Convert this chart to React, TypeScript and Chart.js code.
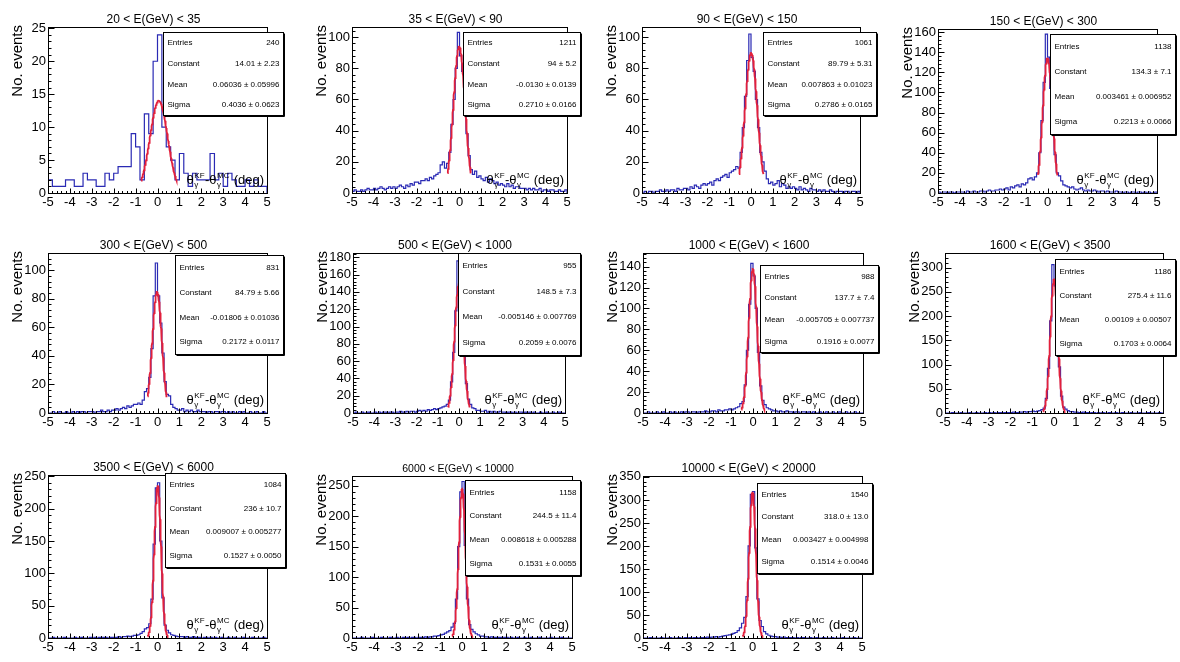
import React, { useEffect, useRef } from "react";
import { Chart, registerables } from "chart.js";
Chart.register(...registerables);

const FONT = '"Liberation Sans", Arial, Helvetica, sans-serif';

// ---------- data ----------
const panelTitles = [
  "20 < E(GeV) < 35", "35 < E(GeV) < 90", "90 < E(GeV) < 150", "150 < E(GeV) < 300",
  "300 < E(GeV) < 500", "500 < E(GeV) < 1000", "1000 < E(GeV) < 1600", "1600 < E(GeV) < 3500",
  "3500 < E(GeV) < 6000", "6000 < E(GeV) < 10000", "10000 < E(GeV) < 20000",
];
const binWidths = [0.2, 0.1, 0.1, 0.1, 0.1, 0.1, 0.1, 0.1, 0.1, 0.1, 0.1];
const xTickValues = [-5, -4, -3, -2, -1, 0, 1, 2, 3, 4, 5];

const counts1 = [2,1,1,1,2,2,1,1,3,2, 2,1,1,3,2,3,4,4,4,9, 7,2,12,9,20,24,10,7,5,2, 6,3,1,3,2,2,2,6,2,3, 1,3,2,1,1,2,1,2,1,1];
const counts2 = [1,2,1,1,2,1,2,3,2,2, 3,2,3,4,3,2,3,4,3,4, 3,4,5,4,3,5,4,6,5,7, 7,6,8,8,9,8,10,9,11,12, 13,18,20,16,19,26,44,60,80,103, 88,78,58,38,24,15,12,14,10,11, 9,8,10,7,9,8,6,7,5,6, 5,4,6,4,5,3,4,4,3,3, 3,2,3,2,3,2,2,3,1,2, 2,1,2,2,1,1,2,1,1,2];
const counts3 = [0,1,0,1,1,0,1,1,2,1, 1,2,1,2,2,1,3,2,2,3, 3,2,4,3,5,4,3,5,6,5, 6,7,5,8,9,8,10,11,12,10, 13,14,15,17,16,26,42,62,85,102, 87,78,60,42,26,20,14,9,6,7, 5,6,8,4,6,5,3,4,3,4, 3,2,4,2,3,2,1,3,2,2, 1,2,1,2,1,1,2,1,0,1, 1,1,0,1,1,0,1,1,0,1];
const counts4 = [1,0,1,1,0,1,1,0,1,1, 1,1,0,2,1,1,2,1,1,2, 2,1,2,3,2,2,3,3,4,3, 4,5,3,6,5,7,8,6,9,8, 10,14,15,13,16,20,40,72,110,158, 135,104,70,38,20,17,12,8,7,6, 5,6,4,3,4,5,3,2,3,2, 2,3,2,1,2,2,1,2,1,1, 1,2,1,1,0,1,1,0,1,1, 0,1,1,0,1,0,1,0,0,1];
const counts5 = [0,0,1,0,0,1,0,0,1,0, 0,1,0,1,0,1,1,0,1,1, 1,0,1,1,2,1,1,2,1,2, 2,3,2,3,4,3,5,4,5,6, 6,7,6,9,15,17,25,45,82,105, 82,63,42,22,13,12,6,4,3,2, 2,3,1,2,1,2,1,1,2,1, 1,1,0,1,1,0,1,1,0,1, 1,0,1,0,1,0,0,1,0,1, 0,0,1,0,0,1,0,0,1,0];
const counts6 = [0,1,0,0,1,0,0,1,0,0, 1,0,1,0,1,1,0,1,1,0, 1,1,2,1,1,2,1,2,2,1, 2,3,2,3,2,4,3,4,5,4, 5,6,7,8,10,15,36,70,118,176, 143,112,70,34,16,10,6,5,3,3, 2,2,3,1,2,1,2,1,1,2, 1,1,0,1,1,0,1,0,1,1, 0,1,0,1,0,1,0,0,1,0, 0,1,0,0,1,0,0,1,0,0];
const counts7 = [0,0,1,0,0,0,1,0,0,1, 0,0,1,0,1,0,0,1,0,1, 1,0,1,1,0,1,1,1,2,1, 1,2,2,1,3,2,2,3,3,4, 3,4,5,6,9,11,27,60,104,143, 131,100,58,26,12,8,5,4,3,2, 2,1,2,1,1,2,1,1,0,1, 1,0,1,1,0,1,0,1,0,0, 1,0,0,1,0,0,1,0,0,1, 0,0,1,0,0,0,1,0,0,0];
const counts8 = [0,0,0,1,0,0,0,1,0,0, 0,1,0,0,1,0,0,0,1,0, 1,0,1,0,1,1,0,1,1,1, 1,2,1,1,2,2,3,2,3,3, 4,3,4,5,7,10,30,92,190,306, 262,185,95,35,12,8,5,3,3,2, 2,1,1,2,1,1,0,1,1,0, 1,0,1,0,0,1,0,0,1,0, 0,1,0,0,0,1,0,0,0,1, 0,0,0,1,0,0,0,0,1,0];
const counts9 = [0,0,1,0,0,0,0,1,0,0, 0,0,1,0,0,1,0,0,0,1, 0,1,0,1,0,1,1,0,1,1, 1,1,2,1,2,2,3,2,3,4, 4,5,7,10,14,16,22,60,145,232, 240,150,62,20,12,8,5,4,3,2, 2,2,1,2,1,1,2,1,1,1, 0,1,1,0,1,0,1,0,0,1, 0,0,1,0,0,1,0,0,0,1, 0,0,0,1,0,0,0,0,1,0];
const counts10 = [0,0,0,0,1,0,0,0,0,1, 0,0,0,1,0,0,0,1,0,0, 1,0,0,1,0,1,0,1,1,0, 1,1,1,2,1,2,2,3,3,4, 5,6,8,10,12,18,24,64,150,240, 257,152,64,22,14,10,7,5,3,3, 2,2,1,2,1,1,1,1,0,1, 1,0,1,0,0,1,0,0,1,0, 0,1,0,0,0,1,0,0,0,0, 1,0,0,0,0,1,0,0,0,0];
const counts11 = [0,0,0,1,0,0,0,0,1,0, 0,0,1,0,0,0,1,0,0,1, 0,1,0,1,1,0,1,1,1,2, 1,2,2,3,2,3,4,5,6,7, 8,10,12,16,22,32,45,90,200,312, 318,196,85,38,25,14,9,6,4,3, 3,2,2,1,2,1,1,1,1,0, 1,0,1,1,0,0,1,0,0,1, 0,0,1,0,0,0,1,0,0,0, 0,1,0,0,0,0,1,0,0,0];
const panelCounts = [counts1, counts2, counts3, counts4, counts5, counts6, counts7, counts8, counts9, counts10, counts11];

const yMax = [25.2, 106.5, 106.5, 163, 112, 185, 153, 330, 252, 266, 352];
const yMajorStep = [5, 20, 20, 20, 20, 20, 20, 50, 50, 50, 50];

// Gaussian fit results shown in the stat boxes
const fitConstant = [14.01, 94, 89.79, 134.3, 84.79, 148.5, 137.7, 275.4, 236, 244.5, 318.0];
const fitMean = [0.06036, -0.013, 0.007863, 0.003461, -0.01806, -0.005146, -0.005705, 0.00109, 0.009007, 0.008618, 0.003427];
const fitSigma = [0.4036, 0.271, 0.2786, 0.2213, 0.2172, 0.2059, 0.1916, 0.1703, 0.1527, 0.1531, 0.1514];
const fitLow = [-0.75, -0.555, -0.55, -0.44, -0.45, -0.52, -0.53, -0.51, -0.45, -0.45, -0.45];
const fitHigh = [0.87, 0.53, 0.565, 0.45, 0.42, 0.51, 0.52, 0.51, 0.47, 0.47, 0.46];

const entriesText = ["240", "1211", "1061", "1138", "831", "955", "988", "1186", "1084", "1158", "1540"];
const constantText = ["14.01 ± 2.23", "94 ± 5.2", "89.79 ± 5.31", "134.3 ± 7.1", "84.79 ± 5.66", "148.5 ± 7.3", "137.7 ± 7.4", "275.4 ± 11.6", "236 ± 10.7", "244.5 ± 11.4", "318.0 ± 13.0"];
const meanText = ["0.06036 ± 0.05996", "-0.0130 ± 0.0139", "0.007863 ± 0.01023", "0.003461 ± 0.006952", "-0.01806 ± 0.01036", "-0.005146 ± 0.007769", "-0.005705 ± 0.007737", "0.00109 ± 0.00507", "0.009007 ± 0.005277", "0.008618 ± 0.005288", "0.003427 ± 0.004998"];
const sigmaText = ["0.4036 ± 0.0623", "0.2710 ± 0.0166", "0.2786 ± 0.0165", "0.2213 ± 0.0066", "0.2172 ± 0.0117", "0.2059 ± 0.0076", "0.1916 ± 0.0077", "0.1703 ± 0.0064", "0.1527 ± 0.0050", "0.1531 ± 0.0055", "0.1514 ± 0.0046"];

// ---------- layout (page pixels) ----------
const frames = [
  [48, 27, 267, 193], [352, 27, 567, 193], [642, 27, 860, 193], [938, 29, 1157, 193],
  [48, 253, 267, 413], [353, 253, 565, 413], [643, 253, 863, 413], [945, 253, 1163, 413],
  [48, 475, 267, 638], [352, 476, 572, 638], [643, 476, 862, 638],
];
const statBoxes = [
  [163, 32, 283, 115], [463, 32, 580, 115], [763, 32, 876, 115], [1050, 34, 1175, 134],
  [175, 255, 283, 354], [458, 253, 580, 355], [760, 265, 878, 352], [1055, 259, 1175, 355],
  [165, 473, 285, 567], [465, 480, 580, 575], [757, 483, 872, 573],
];
const titleFontSize = [12, 12, 12, 12, 12, 12, 12, 12, 12, 10.5, 12];

const PAD_L = 60, PAD_T = 32, PAD_R = 25, PAD_B = 22;
const HIST_COLOR = "#2a2ab4";
const FIT_COLOR = "#e2203c";

function drawXLabel(ctx: CanvasRenderingContext2D, right: number, baseline: number) {
  const big = `13px ${FONT}`;
  const small = `8px ${FONT}`;
  type Seg = { t?: string; sup?: string; sub?: string };
  const segs: Seg[] = [
    { t: "θ" }, { sup: "KF", sub: "γ" }, { t: "-" }, { t: "θ" }, { sup: "MC", sub: "γ" }, { t: " (deg)" },
  ];
  const widths = segs.map((s) => {
    if (s.t !== undefined) { ctx.font = big; return ctx.measureText(s.t).width; }
    ctx.font = small;
    return Math.max(ctx.measureText(s.sup || "").width, ctx.measureText(s.sub || "").width) + 1;
  });
  let x = right - widths.reduce((a, b) => a + b, 0);
  ctx.fillStyle = "#000";
  ctx.textAlign = "left";
  ctx.textBaseline = "alphabetic";
  segs.forEach((s, i) => {
    if (s.t !== undefined) {
      ctx.font = big;
      ctx.fillText(s.t, x, baseline);
    } else {
      ctx.font = small;
      ctx.fillText(s.sup || "", x + 0.5, baseline - 6);
      ctx.fillText(s.sub || "", x + 0.5, baseline + 3);
    }
    x += widths[i];
  });
}

const rootPanelPlugin = {
  id: "rootPanel",
  afterDraw(chart: any, _args: any, opts: any) {
    const i: number = opts.idx;
    const { ctx, chartArea: a, scales } = chart;
    const xs = scales.x, ys = scales.y;
    const offX = frames[i][0] - PAD_L, offY = frames[i][1] - PAD_T;
    ctx.save();
    ctx.strokeStyle = "#000";
    ctx.lineWidth = 1;
    // frame
    const L = Math.round(a.left) + 0.5, T = Math.round(a.top) + 0.5;
    const R = Math.round(a.right) + 0.5, B = Math.round(a.bottom) + 0.5;
    ctx.strokeRect(L, T, R - L, B - T);
    // x ticks (inside, from bottom)
    const xMajor = 1, xMinor = xMajor / 5;
    const nx = Math.round((xs.max - xs.min) / xMinor);
    ctx.beginPath();
    for (let k = 0; k <= nx; k++) {
      const v = xs.min + k * xMinor;
      const px = Math.round(xs.getPixelForValue(v)) + 0.5;
      const len = k % 5 === 0 ? 5 : 2.5;
      ctx.moveTo(px, B);
      ctx.lineTo(px, B - len);
    }
    // y ticks (inside, from left)
    const yMinor = yMajorStep[i] / 5;
    for (let k = 0; k * yMinor <= ys.max + 1e-9; k++) {
      const v = k * yMinor;
      const py = Math.round(ys.getPixelForValue(v)) + 0.5;
      const len = k % 5 === 0 ? 6 : 3;
      ctx.moveTo(L, py);
      ctx.lineTo(L + len, py);
    }
    ctx.stroke();

    // title
    ctx.fillStyle = "#000";
    ctx.font = `${titleFontSize[i]}px ${FONT}`;
    ctx.textAlign = "center";
    ctx.textBaseline = "alphabetic";
    ctx.fillText(panelTitles[i], (a.left + a.right) / 2 - 4, a.top - 4);

    // y title
    ctx.save();
    ctx.translate(a.left - 30, a.top - 2);
    ctx.rotate(-Math.PI / 2);
    ctx.font = `15px ${FONT}`;
    ctx.textAlign = "right";
    ctx.textBaseline = "middle";
    ctx.fillText("No. events", 0, 0);
    ctx.restore();

    // x axis label
    drawXLabel(ctx, a.right - 3, a.bottom - 9);

    // stat box
    const sb = statBoxes[i];
    const bx = sb[0] - offX + 0.5, by = sb[1] - offY + 0.5;
    const bw = sb[2] - sb[0], bh = sb[3] - sb[1];
    ctx.fillStyle = "#fff";
    ctx.fillRect(bx, by, bw, bh);
    ctx.strokeStyle = "#000";
    ctx.lineWidth = 1;
    ctx.strokeRect(bx, by, bw, bh);
    ctx.beginPath();
    ctx.moveTo(bx + 1, by + bh + 1);
    ctx.lineTo(bx + bw + 1, by + bh + 1);
    ctx.lineTo(bx + bw + 1, by + 1);
    ctx.stroke();
    const rows = [
      ["Entries", entriesText[i]],
      ["Constant", constantText[i]],
      ["Mean", meanText[i]],
      ["Sigma", sigmaText[i]],
    ];
    ctx.fillStyle = "#000";
    ctx.font = `8px ${FONT}`;
    ctx.textBaseline = "middle";
    rows.forEach((r, k) => {
      const ry = by + (bh * (2 * k + 1)) / 8;
      ctx.textAlign = "left";
      ctx.fillText(r[0], bx + 4, ry);
      ctx.textAlign = "right";
      ctx.fillText(r[1], bx + bw - 4, ry);
    });
    ctx.restore();
  },
};

function Panel({ idx }: { idx: number }) {
  const ref = useRef<HTMLCanvasElement>(null);
  const f = frames[idx];
  const left = f[0] - PAD_L, top = f[1] - PAD_T;
  const w = f[2] - f[0] + PAD_L + PAD_R;
  const h = f[3] - f[1] + PAD_T + PAD_B;

  useEffect(() => {
    if (!ref.current) return;
    const counts = panelCounts[idx];
    const bw = binWidths[idx];
    const histPts: { x: number; y: number }[] = [{ x: -5, y: 0 }];
    counts.forEach((c, k) => histPts.push({ x: -5 + k * bw, y: c }));
    histPts.push({ x: 5, y: 0 });

    // Gaussian fit function evaluated with the stat-box parameters over the fit range
    const fitPts: { x: number; y: number }[] = [];
    const nS = 120;
    for (let k = 0; k <= nS; k++) {
      const x = fitLow[idx] + ((fitHigh[idx] - fitLow[idx]) * k) / nS;
      const z = (x - fitMean[idx]) / fitSigma[idx];
      fitPts.push({ x, y: fitConstant[idx] * Math.exp(-0.5 * z * z) });
    }

    const step = yMajorStep[idx];
    const yTickValues: number[] = [];
    for (let k = 0; k * step <= yMax[idx] + 1e-9; k++) yTickValues.push(k * step);

    const tickFont = { family: FONT, size: 13 };
    const chart = new Chart(ref.current, {
      type: "line",
      data: {
        datasets: [
          {
            data: fitPts,
            borderColor: FIT_COLOR,
            borderWidth: 1.8,
            pointRadius: 0,
            fill: false,
            tension: 0,
            order: 0,
          } as any,
          {
            data: histPts,
            borderColor: HIST_COLOR,
            borderWidth: 1.2,
            pointRadius: 0,
            fill: false,
            stepped: true,
            tension: 0,
            order: 1,
          } as any,
        ],
      },
      options: {
        animation: false,
        responsive: false,
        devicePixelRatio: 1,
        events: [],
        layout: { padding: { left: 0, top: PAD_T, right: PAD_R, bottom: 0 } },
        plugins: {
          legend: { display: false },
          tooltip: { enabled: false },
          title: { display: false },
          rootPanel: { idx },
        } as any,
        scales: {
          x: {
            type: "linear",
            min: -5,
            max: 5,
            afterFit: (s: any) => { s.height = PAD_B; },
            afterBuildTicks: (s: any) => { s.ticks = xTickValues.map((v) => ({ value: v })); },
            grid: { display: false, drawTicks: false },
            border: { display: false },
            ticks: {
              font: tickFont,
              color: "#000",
              padding: 2,
              autoSkip: false,
              maxRotation: 0,
              minRotation: 0,
              callback: (v: any) => String(v),
            },
          },
          y: {
            type: "linear",
            min: 0,
            max: yMax[idx],
            afterFit: (s: any) => { s.width = PAD_L; },
            afterBuildTicks: (s: any) => { s.ticks = yTickValues.map((v) => ({ value: v })); },
            grid: { display: false, drawTicks: false },
            border: { display: false },
            ticks: {
              font: tickFont,
              color: "#000",
              padding: 2,
              autoSkip: false,
              callback: (v: any) => String(v),
            },
          },
        },
      } as any,
      plugins: [rootPanelPlugin],
    });
    return () => chart.destroy();
  }, [idx]);

  return (
    <canvas
      ref={ref}
      width={w}
      height={h}
      style={{ position: "absolute", left, top, width: w, height: h }}
    />
  );
}

export default function App() {
  return (
    <div
      style={{
        position: "absolute",
        left: 0,
        top: 0,
        width: 1180,
        height: 662,
        background: "#fff",
        overflow: "hidden",
      }}
    >
      {frames.map((_, i) => (
        <Panel key={i} idx={i} />
      ))}
    </div>
  );
}
